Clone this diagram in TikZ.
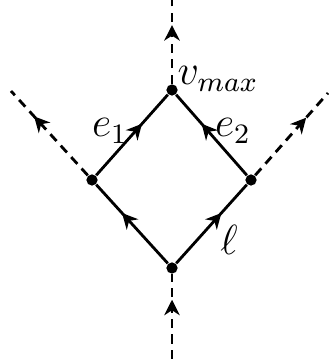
\documentclass[tikz,border=0pt]{standalone}
\usepackage{amsmath,amssymb}
\usepackage{tikz}
\usetikzlibrary{arrows.meta, positioning, decorations.markings}

\begin{document}
\begin{tikzpicture}[
        dot/.style={circle, fill=black, inner sep=0pt, minimum size=3.2pt},
        arrline/.style={line width=0.8pt, decoration={markings, mark=at position 0.64 with {\arrow{Stealth[length=4.4pt, width=4.4pt, inset=1.4pt]}}}, postaction={decorate}},
        dasharr/.style={line width=0.8pt, dash pattern=on 2.6pt off 1.8pt, decoration={markings, mark=at position 0.7 with {\arrow{Stealth[length=4.4pt, width=4.4pt, inset=1.4pt]}}}, postaction={decorate}}
    ]
    \useasboundingbox (0,0) rectangle (3.28,3.59);

    % vertices of the loop
    \node[dot] (vtop) at (1.72,2.69) {};
    \node[dot] (vleft) at (0.92,1.79) {};
    \node[dot] (vright) at (2.51,1.79) {};
    \node[dot] (vbot) at (1.72,0.91) {};

    % outer ends
    \coordinate (ttop) at (1.72,3.59);
    \coordinate (tbot) at (1.72,0);
    \coordinate (tleft) at (0.11,2.68);
    \coordinate (tright) at (3.28,2.66);

    % loop edges
    \draw[arrline] (vbot) -- (vleft);
    \draw[arrline] (vbot) -- (vright);
    \draw[arrline] (vleft) -- (vtop);
    \draw[arrline] (vright) -- (vtop);

    % external legs
    \draw[dasharr] (tbot) -- (vbot);
    \draw[dasharr] (vtop) -- (ttop);
    \draw[dasharr] (vleft) -- (tleft);
    \draw[dasharr] (vright) -- (tright);

    % labels
    \node[anchor=base west, inner sep=0pt] (lvmax) at (1.77,2.74) {\large$v_{max}$};
    \node (le1) at (1.10,2.28) {\large$e_1$};
    \node (le2) at (2.33,2.28) {\large$e_2$};
    \node (lell) at (2.29,1.19) {\large$\ell$};
\end{tikzpicture}
\end{document}
